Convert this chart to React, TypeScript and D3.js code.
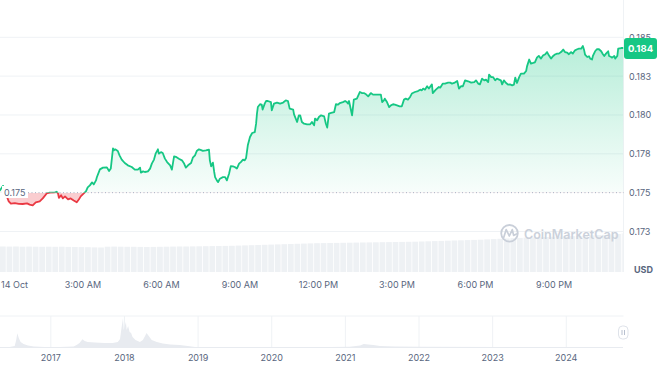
import React from "react";
import * as d3 from "d3";

const W = 663;
const H = 373;

// minutes since 14 Oct 00:00
const priceMinutes = [
  -17, -10, -3, 3, 10, 15, 24, 33, 42, 52, 58, 65, 72, 81, 88, 97, 104, 116, 120, 123,
  125, 130, 134, 139, 146, 152, 159, 166, 171, 175, 182, 187, 191, 196, 201, 205, 210, 212, 219, 226,
  235, 240, 244, 249, 251, 254, 260, 264, 269, 276, 283, 292, 299, 306, 311, 313, 318, 322, 329, 334,
  338, 343, 347, 352, 354, 359, 363, 368, 373, 380, 384, 389, 393, 400, 407, 412, 416, 421, 428, 432,
  437, 441, 446, 451, 455, 462, 469, 471, 474, 478, 481, 483, 487, 490, 494, 501, 506, 510, 515, 519,
  524, 528, 533, 538, 542, 547, 551, 554, 558, 563, 568, 574, 577, 579, 581, 586, 590, 592, 597, 600,
  604, 611, 613, 618, 625, 632, 639, 645, 650, 654, 662, 664, 671, 675, 678, 682, 687, 694, 701, 705,
  710, 712, 717, 721, 726, 733, 737, 740, 744, 749, 756, 760, 765, 769, 776, 781, 785, 788, 790, 797,
  801, 808, 815, 820, 824, 829, 834, 840, 845, 854, 863, 866, 870, 872, 877, 882, 886, 891, 895, 900,
  906, 911, 916, 920, 925, 930, 934, 941, 948, 953, 957, 960, 964, 969, 973, 980, 982, 989, 996, 999,
  1005, 1010, 1017, 1022, 1026, 1031, 1038, 1042, 1047, 1051, 1056, 1063, 1070, 1077, 1081, 1086, 1090, 1095, 1100, 1104,
  1109, 1111, 1116, 1120, 1125, 1129, 1134, 1138, 1141, 1145, 1150, 1155, 1159, 1164, 1168, 1171, 1175, 1180, 1184, 1191,
  1196, 1198, 1203, 1207, 1212, 1216, 1221, 1225, 1230, 1235, 1239, 1244, 1248, 1253, 1258, 1262, 1267, 1271, 1276, 1281,
  1285, 1290, 1294, 1299, 1303, 1308, 1313, 1317, 1322, 1326, 1329, 1331, 1336, 1340, 1343, 1347, 1349, 1354, 1358, 1363,
  1368, 1372, 1375, 1379, 1384, 1386, 1391, 1393, 1398, 1400, 1405, 1407, 1414, 1419,
];

const priceValues = [
  0.17502, 0.17515, 0.17544, 0.17495, 0.17444, 0.17429, 0.17433, 0.17428, 0.17427, 0.17431, 0.17423, 0.17418, 0.17438, 0.17444, 0.17463, 0.17495, 0.175, 0.17502, 0.17506, 0.17495,
  0.17467, 0.17483, 0.17463, 0.17476, 0.17457, 0.17463, 0.1745, 0.17438, 0.17457, 0.17476, 0.17495, 0.17508, 0.17534, 0.17547, 0.17566, 0.17553, 0.17579, 0.17599, 0.1765, 0.17661,
  0.17663, 0.17639, 0.17656, 0.17785, 0.17772, 0.17779, 0.17768, 0.1774, 0.17713, 0.17691, 0.17676, 0.17665, 0.17648, 0.17648, 0.17661, 0.17629, 0.17637, 0.17633, 0.17637, 0.17655,
  0.17687, 0.17713, 0.17753, 0.17779, 0.17751, 0.17761, 0.17755, 0.17719, 0.17697, 0.17676, 0.17648, 0.17734, 0.17731, 0.17718, 0.17708, 0.17687, 0.17661, 0.17676, 0.17691, 0.17725,
  0.1774, 0.17768, 0.17779, 0.17774, 0.17769, 0.17772, 0.17777, 0.17708, 0.17669, 0.17693, 0.17633, 0.176, 0.17579, 0.17568, 0.1759, 0.176, 0.176, 0.17579, 0.17622, 0.17671,
  0.17669, 0.17665, 0.17655, 0.17687, 0.17697, 0.17713, 0.17708, 0.17723, 0.17805, 0.17858, 0.17884, 0.1789, 0.17944, 0.18009, 0.18051, 0.18069, 0.18067, 0.18035, 0.18075, 0.1809,
  0.1809, 0.18083, 0.1803, 0.18073, 0.1808, 0.18073, 0.1808, 0.18094, 0.1809, 0.18041, 0.18035, 0.18004, 0.17955, 0.17998, 0.17998, 0.17955, 0.17944, 0.1794, 0.1794, 0.17955,
  0.17933, 0.17977, 0.17966, 0.17987, 0.17998, 0.17991, 0.17944, 0.17919, 0.18009, 0.18013, 0.18019, 0.18069, 0.18067, 0.18077, 0.18083, 0.1809, 0.18083, 0.18073, 0.1809, 0.17998,
  0.18099, 0.18105, 0.18148, 0.18141, 0.18141, 0.18133, 0.1812, 0.18141, 0.18131, 0.18131, 0.18131, 0.18083, 0.18094, 0.18105, 0.18083, 0.18051, 0.18062, 0.18069, 0.18067, 0.18062,
  0.18056, 0.18056, 0.18099, 0.18105, 0.18099, 0.18116, 0.18138, 0.18148, 0.18154, 0.18163, 0.18159, 0.1817, 0.18163, 0.18185, 0.1817, 0.18197, 0.18141, 0.18163, 0.1818, 0.18176,
  0.18202, 0.18202, 0.18208, 0.18208, 0.18202, 0.18206, 0.18219, 0.1817, 0.18185, 0.18185, 0.18223, 0.18217, 0.18208, 0.18212, 0.18223, 0.18202, 0.18197, 0.18234, 0.18223, 0.18228,
  0.18212, 0.1826, 0.18244, 0.18244, 0.18223, 0.18234, 0.18228, 0.18223, 0.18197, 0.18223, 0.18206, 0.18195, 0.18197, 0.18191, 0.18195, 0.18241, 0.18206, 0.18244, 0.18266, 0.18266,
  0.18283, 0.18313, 0.18357, 0.18331, 0.18335, 0.18339, 0.18371, 0.1838, 0.18363, 0.18384, 0.18389, 0.18405, 0.18384, 0.18363, 0.1838, 0.18389, 0.18395, 0.18395, 0.18405, 0.18421,
  0.18405, 0.18402, 0.18391, 0.18405, 0.18395, 0.18416, 0.18423, 0.18427, 0.18427, 0.18444, 0.18416, 0.18389, 0.18373, 0.18378, 0.18363, 0.18357, 0.1838, 0.1841, 0.18423, 0.18423,
  0.1841, 0.18391, 0.1838, 0.18395, 0.1841, 0.1838, 0.18373, 0.18369, 0.1838, 0.18363, 0.1838, 0.18427, 0.18431, 0.18431,
];

const openPrice = 0.175;
const openLabel = "0.175";

const yTickValues = [0.185, 0.1825, 0.18, 0.1775, 0.175, 0.1725];
const yTickLabels = ["0.185", "0.183", "0.180", "0.178", "0.175", "0.173"];

const xTickHours = [0, 3, 6, 9, 12, 15, 18, 21];
const xTickLabels = ["14 Oct", "3:00 AM", "6:00 AM", "9:00 AM", "12:00 PM", "3:00 PM", "6:00 PM", "9:00 PM"];

// 15-minute volume bars (relative units)
const volumeValues = [
  255, 254, 255, 253, 254, 253, 252, 253, 252, 253, 251, 250, 249, 248, 246, 245,
  253, 254, 253, 252, 252, 251, 250, 251, 252, 253, 254, 255, 255, 256, 257, 258,
  259, 260, 261, 262, 264, 266, 268, 270, 272, 274, 276, 278, 280, 282, 284, 286,
  288, 289, 290, 291, 292, 293, 294, 295, 296, 297, 298, 299, 300, 301, 302, 303,
  305, 307, 309, 311, 313, 315, 317, 319, 321, 323, 326, 329, 332, 335, 338, 341,
  344, 346, 348, 350, 352, 354, 356, 358, 360, 363, 366, 369, 372, 376, 380, 386,
];

// navigator (all-time) series
const navYears = [
  2016.31, 2016.44, 2016.51, 2016.53, 2016.545, 2016.565, 2016.59, 2016.63, 2016.69, 2016.77,
  2016.92, 2017.12, 2017.31, 2017.35, 2017.39, 2017.43, 2017.46, 2017.5, 2017.6, 2017.73,
  2017.84, 2017.91, 2017.94, 2017.96, 2017.98, 2017.99, 2018.005, 2018.02, 2018.03, 2018.05,
  2018.07, 2018.09, 2018.11, 2018.15, 2018.21, 2018.25, 2018.28, 2018.3, 2018.33, 2018.37,
  2018.44, 2018.52, 2018.62, 2018.75, 2018.86, 2018.96, 2019.43, 2020.0, 2020.79, 2021.06,
  2021.2, 2021.25, 2021.31, 2021.38, 2021.47, 2021.67, 2022.01, 2023.1, 2024.77,
];
const navValues = [
  1, 1, 2, 8, 14.7, 10, 6, 4, 2.5, 1.5,
  1, 1, 1.5, 3, 5, 8.7, 7, 6, 5.5, 5,
  5, 6, 9, 20, 29.7, 18, 22, 26, 18, 22,
  16, 15, 11, 8, 6, 8, 12, 15, 12, 8,
  6, 4.5, 3.5, 3, 2, 1, 1, 1, 1, 1.2,
  2.5, 4, 3.5, 3, 2, 1.5, 1.2, 1, 1,
];
const yearTicks = [2017, 2018, 2019, 2020, 2021, 2022, 2023, 2024];

const GREEN = "#16c784";
const RED = "#ea3943";
const GRID = "#eff2f5";
const TEXT = "#58667e";
const FONT = "Inter, 'Noto Sans', sans-serif";

export default function App() {
  const plotRight = 623.5;
  const x = d3.scaleLinear().domain([-10, 1418]).range([0, 623]);
  const y = d3.scaleLinear().domain([0.1725, 0.185]).range([231.5, 37.3]);
  const vy = d3.scaleLinear().domain([0, 400]).range([272, 232]);
  const nx = d3.scaleLinear().domain([2016.31, 2024.77]).range([0, 623]);
  const ny = d3.scaleLinear().domain([0, 30]).range([348, 318]);

  const pts: [number, number][] = priceMinutes.map((m, i) => [m, priceValues[i]]);
  const base = y(openPrice);

  const line = d3
    .line<[number, number]>()
    .x((d) => x(d[0]))
    .y((d) => y(d[1]));
  const area = d3
    .area<[number, number]>()
    .x((d) => x(d[0]))
    .y0(base)
    .y1((d) => y(d[1]));

  const navPts = navYears.map((yr, i) => [yr, navValues[i]] as [number, number]);
  const navArea = d3
    .area<[number, number]>()
    .x((d) => nx(d[0]))
    .y0(ny(0))
    .y1((d) => ny(d[1]));

  const last = priceValues[priceValues.length - 1];
  const lastY = y(last);

  return (
    <svg
      width={W}
      height={H}
      style={{ position: "absolute", left: 0, top: 0, background: "#fff" }}
      fontFamily={FONT}
    >
      <defs>
        <clipPath id="plotClip">
          <rect x={0} y={0} width={plotRight} height={272} />
        </clipPath>
        <clipPath id="above">
          <rect x={0} y={0} width={plotRight} height={base} />
        </clipPath>
        <clipPath id="below">
          <rect x={0} y={base} width={plotRight} height={272 - base} />
        </clipPath>
        <linearGradient id="greenGrad" gradientUnits="userSpaceOnUse" x1={0} y1={y(0.185)} x2={0} y2={base}>
          <stop offset="0%" stopColor={GREEN} stopOpacity={0.32} />
          <stop offset="100%" stopColor={GREEN} stopOpacity={0.03} />
        </linearGradient>
      </defs>

      {/* volume bars */}
      <g>
        {volumeValues.map((v, i) => {
          const t0 = -10 + i * 15;
          const x0 = x(t0);
          const x1 = Math.min(x(t0 + 15), plotRight);
          return (
            <rect
              key={i}
              x={x0}
              y={vy(v)}
              width={Math.max(0, x1 - x0 - 0.8)}
              height={vy(0) - vy(v)}
              fill="#eef1f4"
            />
          );
        })}
      </g>

      {/* grid lines */}
      {yTickValues.map((v, i) =>
        v === openPrice ? null : (
          <line key={i} x1={0} x2={plotRight} y1={y(v)} y2={y(v)} stroke={GRID} strokeWidth={1} />
        )
      )}
      <line x1={plotRight} x2={plotRight} y1={0} y2={272} stroke={GRID} strokeWidth={1} />

      {/* watermark */}
      <g opacity={1}>
        <circle cx={509.5} cy={233.3} r={8.3} fill="none" stroke="#c9cfd9" strokeWidth={1.8} />
        <path
          d="M503.8,237.2 L506.2,229.6 L509.3,236 L512.3,229.6 L513.6,235.4 L516.5,234"
          fill="none"
          stroke="#c9cfd9"
          strokeWidth={1.7}
          strokeLinejoin="round"
          strokeLinecap="round"
        />
        <text x={524} y={234} dominantBaseline="central" fontSize={12.5} fontWeight={600} fill="#cbd1db">
          CoinMarketCap
        </text>
      </g>

      {/* areas */}
      <g clipPath="url(#plotClip)">
        <path d={area(pts) || ""} fill="url(#greenGrad)" clipPath="url(#above)" />
        <path d={area(pts) || ""} fill={RED} fillOpacity={0.25} clipPath="url(#below)" />
      </g>

      {/* baseline */}
      <line x1={28} x2={plotRight} y1={base} y2={base} stroke="#a6b0c3" strokeWidth={1} strokeDasharray="1 2.5" />

      {/* lines */}
      <g clipPath="url(#plotClip)">
        <path d={line(pts) || ""} fill="none" stroke={GREEN} strokeWidth={1.8} strokeLinejoin="round" clipPath="url(#above)" />
        <path d={line(pts) || ""} fill="none" stroke={RED} strokeWidth={1.8} strokeLinejoin="round" clipPath="url(#below)" />
      </g>

      {/* open price label */}
      <rect x={2} y={186} width={26} height={12} fill="#fff" />
      <text x={4} y={base} dominantBaseline="central" fontSize={9} fill={TEXT}>
        {openLabel}
      </text>

      {/* y axis labels */}
      {yTickValues.map((v, i) => (
        <text key={i} x={629} y={y(v)} dominantBaseline="central" fontSize={9} fill={TEXT}>
          {yTickLabels[i]}
        </text>
      ))}
      <text x={634} y={269} dominantBaseline="central" fontSize={9} fontWeight={700} fill={TEXT}>
        USD
      </text>

      {/* current price badge */}
      <rect x={624} y={lastY - 10} width={33} height={21} rx={3} fill={GREEN} />
      <text x={640.5} y={lastY + 0.5} textAnchor="middle" dominantBaseline="central" fontSize={9.5} fontWeight={700} fill="#fff">
        {d3.format(".3f")(last)}
      </text>

      {/* x axis labels */}
      {xTickHours.map((h, i) => (
        <text
          key={i}
          x={i === 0 ? 1 : x(h * 60)}
          y={284.5}
          textAnchor={i === 0 ? "start" : "middle"}
          dominantBaseline="central"
          fontSize={9}
          fill={TEXT}
        >
          {xTickLabels[i]}
        </text>
      ))}

      {/* navigator */}
      <line x1={0} x2={plotRight} y1={316} y2={316} stroke={GRID} strokeWidth={1} />
      {yearTicks.map((yr) => (
        <line key={yr} x1={nx(yr)} x2={nx(yr)} y1={316} y2={348} stroke={GRID} strokeWidth={1} />
      ))}
      <path d={navArea(navPts) || ""} fill="#e8ebf0" />
      {yearTicks.map((yr) => (
        <text key={yr} x={nx(yr)} y={357.5} textAnchor="middle" dominantBaseline="central" fontSize={9} fill={TEXT}>
          {yr}
        </text>
      ))}
      <g>
        <rect x={618.5} y={326} width={9.5} height={13} rx={4} fill="#fff" stroke="#dfe3ea" strokeWidth={1} />
        <line x1={622} x2={622} y1={330} y2={335} stroke="#a6b0c3" strokeWidth={0.8} />
        <line x1={624.5} x2={624.5} y1={330} y2={335} stroke="#a6b0c3" strokeWidth={0.8} />
      </g>
    </svg>
  );
}
